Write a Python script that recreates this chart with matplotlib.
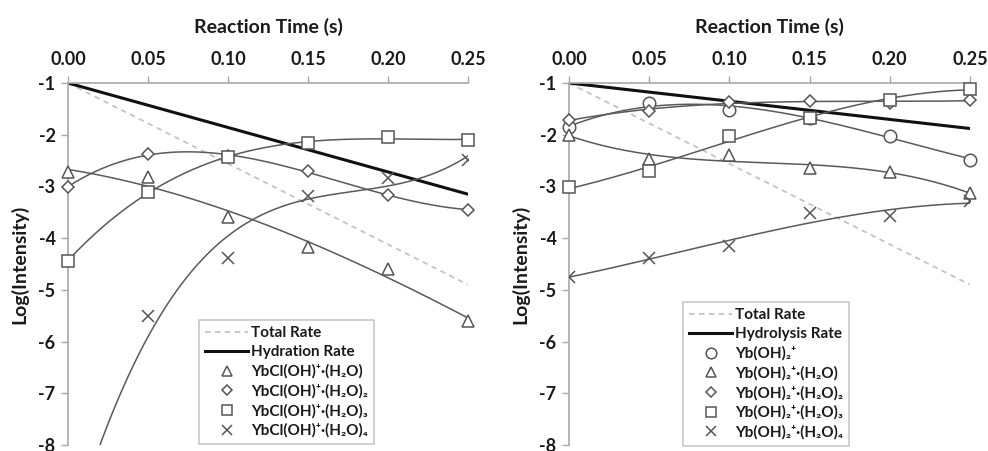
import numpy as np
import matplotlib
matplotlib.use("Agg")
import matplotlib.pyplot as plt

plt.rcParams['font.family'] = ['Lato', 'DejaVu Sans']

# ---- data ----
t = [0.00, 0.05, 0.10, 0.15, 0.20, 0.25]
rate_t = [0.00, 0.25]

# left panel: YbCl(OH)+ hydration
left_total = [-1.0, -4.9]
left_hydration = [-1.0, -3.15]
left_h1 = [-2.73, -2.82, -3.60, -4.17, -4.60, -5.60]
left_h2 = [-3.01, -2.37, -2.42, -2.71, -3.17, -3.45]
left_h3 = [-4.44, -3.11, -2.43, -2.16, -2.05, -2.10]
left_h4 = [-10.0, -5.50, -4.39, -3.19, -2.83, -2.48]   # t=0 point lies below the axis

# right panel: Yb(OH)2+ hydrolysis
right_total = [-1.0, -4.9]
right_hydrolysis = [-1.0, -1.88]
right_h0 = [-1.86, -1.38, -1.52, -1.68, -2.02, -2.48]
right_h1 = [-2.00, -2.46, -2.40, -2.65, -2.72, -3.13]
right_h2 = [-1.71, -1.55, -1.36, -1.34, -1.39, -1.33]
right_h3 = [-3.02, -2.70, -2.03, -1.68, -1.32, -1.12]
right_h4 = [-4.75, -4.39, -4.15, -3.52, -3.58, -3.29]

left_labels = ['Total Rate', 'Hydration Rate',
               'YbCl(OH)⁺·(H₂O)',
               'YbCl(OH)⁺·(H₂O)₂',
               'YbCl(OH)⁺·(H₂O)₃',
               'YbCl(OH)⁺·(H₂O)₄']
right_labels = ['Total Rate', 'Hydrolysis Rate',
                'Yb(OH)₂⁺',
                'Yb(OH)₂⁺·(H₂O)',
                'Yb(OH)₂⁺·(H₂O)₂',
                'Yb(OH)₂⁺·(H₂O)₃',
                'Yb(OH)₂⁺·(H₂O)₄']
xticks = [0.00, 0.05, 0.10, 0.15, 0.20, 0.25]
xticklabels = ['0.00', '0.05', '0.10', '0.15', '0.20', '0.25']
yticks = [-1, -2, -3, -4, -5, -6, -7, -8]

# ---- style ----
W, H = 988, 451
fig = plt.figure(figsize=(W / 100, H / 100), dpi=100)
spine_c = '#a8a8a8'
mk_c = '#555555'
curve_c = '#5a5a5a'
dash_c = '#c4c4c4'

marker_style = {
    'o': dict(ms=9),
    '^': dict(ms=9),
    'D': dict(ms=6),
    's': dict(ms=8.5),
    'x': dict(ms=9),
}


def setup(ax):
    ax.set_xlim(0, 0.25)
    ax.set_ylim(-8, -1)
    ax.xaxis.tick_top()
    ax.xaxis.set_label_position('top')
    ax.set_xticks(xticks)
    ax.set_xticklabels(xticklabels)
    ax.set_yticks(yticks)
    ax.set_yticklabels([str(v) for v in yticks])
    for s in ['right', 'bottom']:
        ax.spines[s].set_visible(False)
    for s in ['left', 'top']:
        ax.spines[s].set_color(spine_c)
        ax.spines[s].set_linewidth(1.2)
    ax.tick_params(axis='both', colors=spine_c, length=5, width=1.0,
                   labelcolor='#1a1a1a', labelsize=13)
    ax.tick_params(axis='x', pad=6)
    ax.tick_params(axis='y', pad=4)
    for lab in ax.get_xticklabels() + ax.get_yticklabels():
        lab.set_fontweight('bold')
    ax.set_xlabel('Reaction Time (s)', fontsize=14, fontweight='bold',
                  color='#1a1a1a', labelpad=13)
    ax.set_ylabel('Log(Intensity)', fontsize=14, fontweight='bold',
                  color='#1a1a1a', labelpad=7)
    ax.patch.set_alpha(0)


def draw(ax, total, rate, series, markers, labels, legend_anchor):
    tt = np.linspace(0, 0.25, 300)
    h_total, = ax.plot(rate_t, total, ls=(0, (3, 2.5)), color=dash_c, lw=1.3,
                       label=labels[0])
    h_rate, = ax.plot(rate_t, rate, color='#111111', lw=2.2, label=labels[1])
    handles = [h_total, h_rate]
    for ys, m, lab in zip(series, markers, labels[2:]):
        coef = np.polyfit(t, ys, 3)
        ax.plot(tt, np.polyval(coef, tt), color=curve_c, lw=1.1, zorder=2)
        h, = ax.plot(t, ys, ls='none', marker=m, mfc='white', mec=mk_c,
                     mew=1.1, label=lab, zorder=3,
                     clip_on=(m == 'x'), **marker_style[m])
        handles.append(h)
    leg = ax.legend(handles=handles, loc='upper left',
                    bbox_to_anchor=legend_anchor,
                    bbox_transform=fig.transFigure, borderaxespad=0,
                    frameon=True, fancybox=False, framealpha=1,
                    edgecolor='#c8c8c8', handlelength=2.8,
                    handletextpad=0.2, labelspacing=0.34, borderpad=0.4,
                    markerscale=0.85,
                    prop={'weight': 'bold', 'size': 11})
    leg.get_frame().set_linewidth(1.2)
    for txt in leg.get_texts():
        txt.set_color('#1a1a1a')


ax1 = fig.add_axes([68 / W, 1 - 445 / H, 400 / W, (445 - 83) / H])
ax2 = fig.add_axes([569 / W, 1 - 445 / H, 401 / W, (445 - 83) / H])
for ax in (ax1, ax2):
    setup(ax)

draw(ax1, left_total, left_hydration,
     [left_h1, left_h2, left_h3, left_h4], ['^', 'D', 's', 'x'],
     left_labels, (199 / W, 1 - 320 / H))
draw(ax2, right_total, right_hydrolysis,
     [right_h0, right_h1, right_h2, right_h3, right_h4],
     ['o', '^', 'D', 's', 'x'], right_labels, (683 / W, 1 - 302 / H))

fig.savefig('out.png', dpi=100)
